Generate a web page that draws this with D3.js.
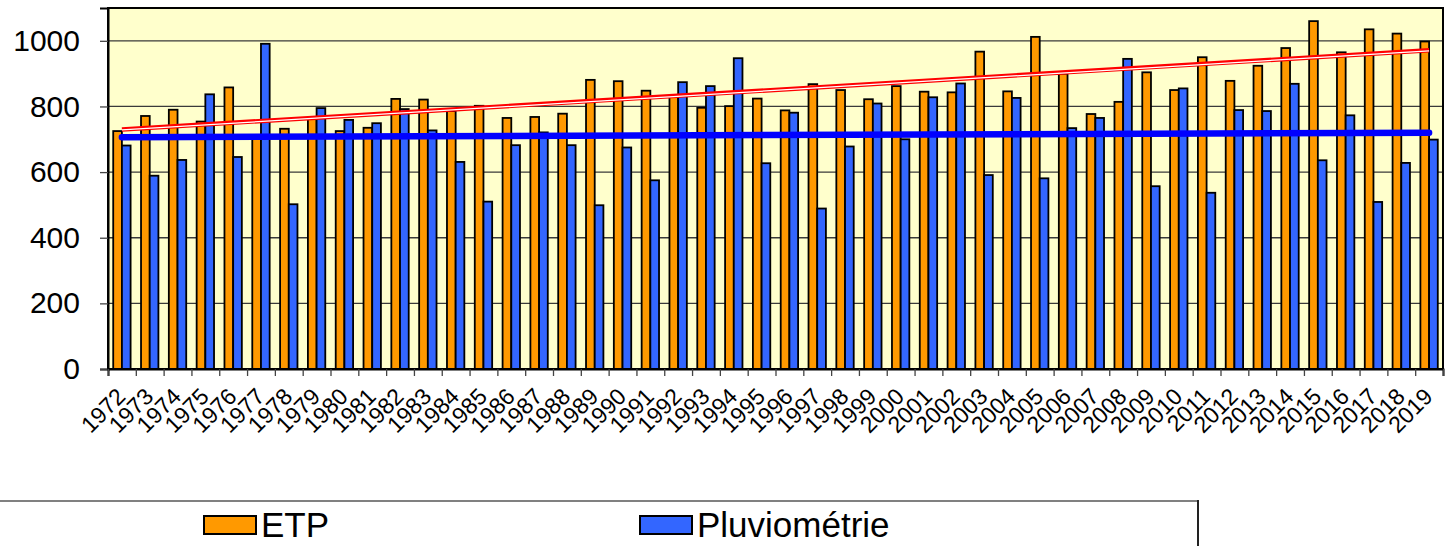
<!DOCTYPE html>
<html>
<head>
<meta charset="utf-8">
<script src="https://cdn.jsdelivr.net/npm/d3@7"></script>
<style>
  body { margin: 0; background: #fff; }
  svg { display: block; font-family: Arial, "Liberation Sans", sans-serif; }
</style>
</head>
<body>
<div id="chart"></div>
<script>
const years = ["1972","1973","1974","1975","1976","1977","1978","1979","1980","1981","1982","1983",
  "1984","1985","1986","1987","1988","1989","1990","1991","1992","1993","1994","1995",
  "1996","1997","1998","1999","2000","2001","2002","2003","2004","2005","2006","2007",
  "2008","2009","2010","2011","2012","2013","2014","2015","2016","2017","2018","2019"];
const etp = [725, 771, 790, 754, 858, 712, 732, 762, 725, 735, 823, 821,
  786, 802, 765, 768, 778, 881, 877, 848, 830, 796, 801, 824,
  788, 868, 850, 822, 862, 845, 843, 967, 846, 1012, 900, 777,
  814, 904, 850, 950, 878, 924, 978, 1060, 965, 1035, 1022, 998];
const pluvio = [681, 589, 637, 837, 646, 991, 502, 795, 759, 749, 792, 727,
  631, 510, 682, 721, 682, 499, 675, 575, 874, 862, 947, 627,
  781, 489, 678, 809, 700, 828, 870, 591, 826, 581, 734, 765,
  945, 557, 855, 537, 789, 786, 869, 636, 773, 509, 628, 699];
// trend lines (value at 1972, value at 2019)
const etpTrend = [730, 971];
const pluvioTrend = [706, 720];
const yTicks = [0, 200, 400, 600, 800, 1000];
const seriesNames = ["ETP", "Pluviométrie"];
const seriesColors = ["#FF9900", "#3366FF"];

const W = 1451, H = 546;
const plotLeft = 108, plotRight = 1443, plotTop = 8, plotBottom = 369;

const svg = d3.select("#chart").append("svg")
  .attr("width", W).attr("height", H);

const x = d3.scaleBand().domain(years).range([plotLeft, plotRight]);
const x1 = d3.scaleBand().domain(seriesNames).range([0, x.bandwidth()]).paddingOuter(0.6);
const xEdge = d3.scaleLinear().domain([0, years.length]).range([plotLeft, plotRight]);
const y = d3.scaleLinear().domain([0, 1100]).range([plotBottom, plotTop]);

// plot background
svg.append("rect")
  .attr("x", plotLeft).attr("y", plotTop)
  .attr("width", plotRight - plotLeft).attr("height", plotBottom - plotTop)
  .attr("fill", "#FFFFCC");

// grid
svg.append("g").selectAll("line")
  .data(yTicks.slice(1))
  .enter().append("line")
  .attr("x1", plotLeft).attr("x2", plotRight)
  .attr("y1", d => y(d)).attr("y2", d => y(d))
  .attr("stroke", "#3a3a3a").attr("stroke-width", 1.3);

// bars
const rows = years.map((yr, i) => ({year: yr, values: [etp[i], pluvio[i]]}));
const groups = svg.append("g").selectAll("g")
  .data(rows)
  .enter().append("g")
  .attr("transform", d => `translate(${x(d.year)},0)`);

groups.selectAll("rect")
  .data(d => d.values.map((v, k) => ({key: seriesNames[k], value: v, color: seriesColors[k]})))
  .enter().append("rect")
  .attr("x", d => x1(d.key))
  .attr("y", d => y(d.value))
  .attr("width", x1.bandwidth())
  .attr("height", d => plotBottom - y(d.value))
  .attr("fill", d => d.color)
  .attr("stroke", "#000")
  .attr("stroke-width", 1.8);

// trend lines
const x0c = x(years[0]) + x.bandwidth() / 2;
const x1c = x(years[years.length - 1]) + x.bandwidth() / 2;

svg.append("line")
  .attr("x1", x0c).attr("x2", x1c)
  .attr("y1", y(etpTrend[0])).attr("y2", y(etpTrend[1]))
  .attr("stroke", "#FF0000").attr("stroke-width", 4.5);
svg.append("line")
  .attr("x1", x0c).attr("x2", x1c)
  .attr("y1", y(etpTrend[0]) + 0.5).attr("y2", y(etpTrend[1]) + 0.5)
  .attr("stroke", "#FFFFFF").attr("stroke-width", 1.3);

svg.append("line")
  .attr("x1", x0c).attr("x2", x1c)
  .attr("y1", y(pluvioTrend[0])).attr("y2", y(pluvioTrend[1]))
  .attr("stroke", "#0000FF").attr("stroke-width", 6.5)
  .attr("stroke-linecap", "round");

// plot border
svg.append("rect")
  .attr("x", plotLeft).attr("y", plotTop)
  .attr("width", plotRight - plotLeft).attr("height", plotBottom - plotTop)
  .attr("fill", "none").attr("stroke", "#000").attr("stroke-width", 2);

// y axis
const yAxis = svg.append("g")
  .attr("transform", `translate(${plotLeft},0)`)
  .call(d3.axisLeft(y).tickValues(yTicks).tickFormat(d3.format("d")).tickSize(8).tickPadding(20));
yAxis.select(".domain").attr("stroke", "#000").attr("stroke-width", 2);
yAxis.selectAll(".tick line").attr("stroke", "#444").attr("stroke-width", 1.3);
yAxis.selectAll("text")
  .style("font-size", "30px")
  .style("font-family", "Arial, 'Liberation Sans', sans-serif")
  .attr("fill", "#000");

// x axis boundary ticks
const xTickAxis = svg.append("g")
  .attr("transform", `translate(0,${plotBottom})`)
  .call(d3.axisBottom(xEdge).tickValues(d3.range(years.length + 1)).tickFormat("").tickSize(7));
xTickAxis.select(".domain").attr("stroke", "#000").attr("stroke-width", 2);
xTickAxis.selectAll(".tick line").attr("stroke", "#444").attr("stroke-width", 1.3);

// x labels
const xAxis = svg.append("g")
  .attr("transform", `translate(0,${plotBottom})`)
  .call(d3.axisBottom(x).tickSize(0));
xAxis.select(".domain").remove();
xAxis.selectAll("text")
  .style("font-size", "23px")
  .style("font-family", "Arial, 'Liberation Sans', sans-serif")
  .attr("fill", "#000")
  .attr("text-anchor", "end")
  .attr("dy", 0)
  .attr("y", 0)
  .attr("transform", "translate(5,29) rotate(-45)");

// legend
const legend = svg.append("g");
legend.append("rect")
  .attr("x", -5).attr("y", 501)
  .attr("width", 1203).attr("height", 60)
  .attr("fill", "#fff").attr("stroke", "none");
legend.append("line")
  .attr("x1", 0).attr("x2", 1198).attr("y1", 501).attr("y2", 501)
  .attr("stroke", "#808080").attr("stroke-width", 2);
legend.append("line")
  .attr("x1", 1198).attr("x2", 1198).attr("y1", 500).attr("y2", 546)
  .attr("stroke", "#222").attr("stroke-width", 2);

const legendX = [204, 640];
seriesNames.forEach((name, k) => {
  legend.append("rect")
    .attr("x", legendX[k]).attr("y", 516)
    .attr("width", 52).attr("height", 18)
    .attr("fill", seriesColors[k])
    .attr("stroke", "#000").attr("stroke-width", 2);
  legend.append("text")
    .attr("x", legendX[k] + 57).attr("y", 537)
    .style("font-size", "35px")
    .text(name);
});
</script>
</body>
</html>
